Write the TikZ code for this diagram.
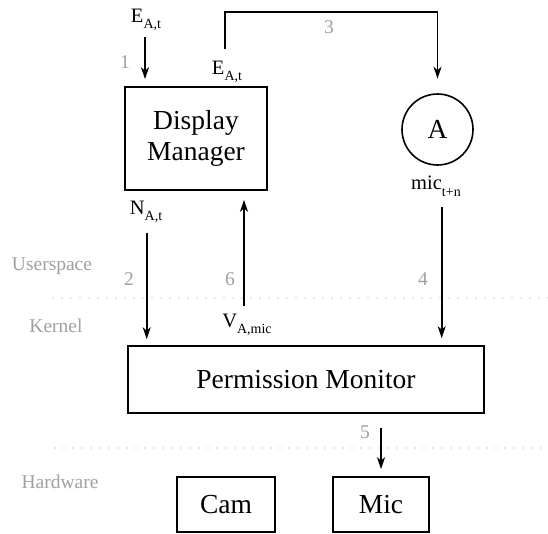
\documentclass[tikz,border=0pt]{standalone}
\usepackage{fontspec}
\setmainfont{Liberation Serif}
\usetikzlibrary{arrows.meta,calc}
\definecolor{layergrey}{HTML}{A0A0A0}
\newcommand{\subs}[1]{\raisebox{-0.32em}{\fontsize{14}{15}\selectfont #1}}

\begin{document}
\begin{tikzpicture}[x=1pt,y=-1pt,
  box/.style={draw, line width=1.6pt, font=\fontsize{27.5}{31}\selectfont,
              inner sep=0pt, align=center},
  lab/.style={font=\fontsize{20.5}{23}\selectfont, inner sep=0pt},
  num/.style={text=layergrey, font=\fontsize{19.5}{21}\selectfont, inner sep=0pt},
  arr/.style={line width=1.6pt, -{Stealth[length=12pt,width=8pt,inset=3.5pt]}},
  layer/.style={draw=layergrey, line width=1.4pt, dash pattern=on 0pt off 9pt,
                line cap=round}]
\useasboundingbox (0,0) rectangle (548,533);

% components
\node[box, minimum width=142pt, minimum height=103pt] (dm) at (196,138.5) {Display\\Manager};
\node[box, circle, minimum size=71pt] (A) at (437.5,129.5) {A};
\node[box, minimum width=356pt, minimum height=67pt] (pm) at (306,379.5) {Permission Monitor};
\node[box, minimum width=98pt, minimum height=55pt] (cam) at (226,504.5) {Cam};
\node[box, minimum width=96pt, minimum height=55pt] (mic) at (381,504.5) {Mic};

% message labels
\node[lab] (e1) at (146,20) {E\subs{A,t}};
\node[lab] (e2) at (227,72) {E\subs{A,t}};
\node[lab] (nat) at (146,212) {N\subs{A,t}};
\node[lab] (vam) at (247,325) {V\subs{A,mic}};
\node[lab] (mtn) at (436,186) {mic\subs{t+n}};

% step numbers
\node[num] (n1) at (125,62) {1};
\node[num] (n2) at (129,279) {2};
\node[num] (n3) at (329,27) {3};
\node[num] (n4) at (423,279) {4};
\node[num] (n5) at (365,432) {5};
\node[num] (n6) at (230,279) {6};

% layers
\node[num] (us) at (52,266) {Userspace};
\node[num] (ke) at (56,326) {Kernel};
\node[num] (hw) at (60,482) {Hardware};
\coordinate (l1a) at (53,298);
\coordinate (l1b) at (548,298);
\coordinate (l2a) at (55,448);
\coordinate (l2b) at (548,448);
\draw[layer] (l1a) -- (l1b);
\draw[layer] (l2a) -- (l2b);

% arrow columns and free ends
\coordinate (in1) at (145,37);
\coordinate (c2) at (146.7,0);
\coordinate (c3) at (225,0);
\coordinate (c4) at (441.7,0);
\coordinate (c6) at (244,0);
\coordinate (top) at (0,12);

% flows
\draw[arr, shorten >=7pt] (in1) -- (in1 |- dm.north);
\draw[arr, shorten <=42pt, shorten >=6pt] (dm.south -| c2) -- (pm.north -| c2);
\draw[arr, shorten <=37pt, shorten >=14.5pt] (dm.north -| c3) -- (top -| c3) -| (A.north);
\draw[arr, shorten <=41pt, shorten >=7pt] (A.south -| c4) -- (pm.north -| c4);
\draw[arr, shorten <=14pt, shorten >=7pt] (pm.south -| mic.north) -- (mic.north);
\draw[arr, shorten <=39pt, shorten >=9pt] (pm.north -| c6) -- (dm.south -| c6);
\end{tikzpicture}
\end{document}
